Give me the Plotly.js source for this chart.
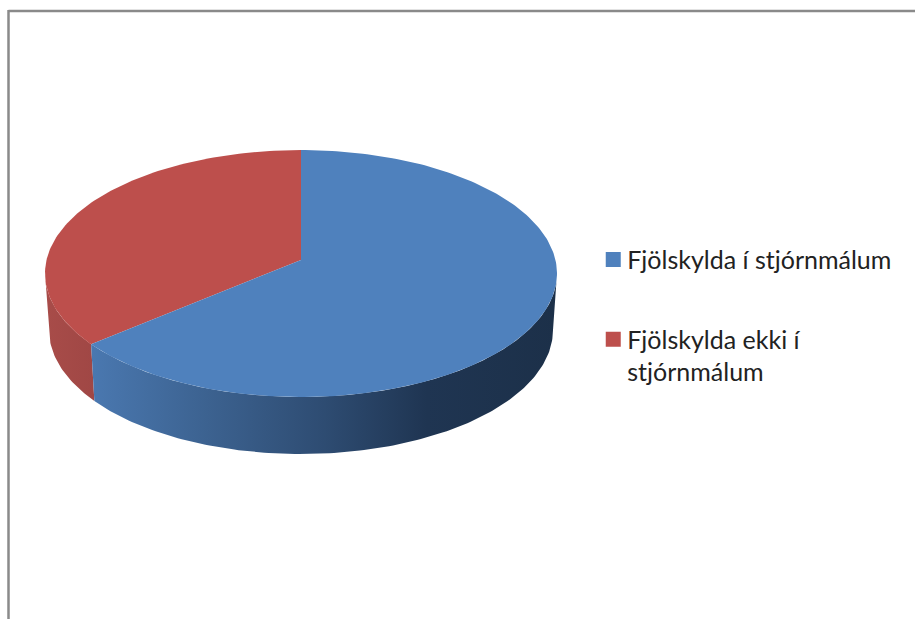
<!DOCTYPE html>
<html>
<head>
<meta charset="utf-8">
<script src="https://cdn.plot.ly/plotly-3.0.1.min.js"></script>
<style>html,body{margin:0;padding:0;background:#fff;overflow:hidden}#c{width:915px;height:619px}</style>
</head>
<body>
<div id="c"></div>
<script>
const categories = ["Fjölskylda í stjórnmálum", "Fjölskylda ekki í stjórnmálum"];
const legendLabels = ["Fjölskylda í stjórnmálum", "Fjölskylda ekki í<br>stjórnmálum"];
const values = [65.3, 34.7];
const topColors = ["#4f81bd", "#bd4f4c"];
const wallScales = [
  [[0, "#4a78b0"], [0.25, "#3c6290"], [0.5, "#2e4c72"], [0.72, "#1f3552"], [1, "#1c3049"]],
  [[0, "#a84c49"], [1, "#a04745"]]
];

// Disc geometry in axis units (the axes span the page)
const top3d = {cx: 301, cy: 273.5, rx: 256, ry: 123.5, apexY: 260};
const low3d = {cx: 301, cy: 330, rx: 252, ry: 124};

function rim(g, a, b) {
  const xs = [], ys = [], n = Math.max(2, Math.ceil(Math.abs(b - a)));
  for (let i = 0; i <= n; i++) {
    const t = (a + (b - a) * i / n) * Math.PI / 180;
    xs.push(g.cx + g.rx * Math.sin(t));
    ys.push(g.cy - g.ry * Math.cos(t));
  }
  return {xs, ys};
}

const total = values.reduce((s, v) => s + v, 0);
const splitAngle = values[0] / total * 360;

function wall(a, b, idx) {
  const t = rim(top3d, a, b), l = rim(low3d, a, b);
  return {
    type: "scatter", mode: "lines", x: t.xs.concat(l.xs.slice().reverse()), y: t.ys.concat(l.ys.slice().reverse()),
    fill: "toself", line: {width: 0}, fillcolor: wallScales[idx][0][1],
    fillgradient: {type: "horizontal", colorscale: wallScales[idx]},
    showlegend: false, hoverinfo: "skip"
  };
}
function face(a, b, idx) {
  const t = rim(top3d, a, b);
  return {
    type: "scatter", mode: "lines",
    x: [top3d.cx].concat(t.xs, [top3d.cx]), y: [top3d.apexY].concat(t.ys, [top3d.apexY]),
    fill: "toself", fillcolor: topColors[idx], line: {width: 0},
    showlegend: false, name: categories[idx], hoverinfo: "name"
  };
}
function key(idx) {
  return {
    type: "scatter", mode: "markers", x: [null], y: [null], name: legendLabels[idx],
    legendgroup: "g" + idx, marker: {symbol: "square", size: 15, color: topColors[idx]}, hoverinfo: "skip"
  };
}

const traces = [
  wall(splitAngle, 360 - 90 + 0, 1),
  wall(90, splitAngle, 0),
  face(splitAngle, 360, 1),
  face(0, splitAngle, 0),
  key(0), key(1)
];

const layout = {
  width: 915, height: 619,
  margin: {l: 0, r: 0, t: 0, b: 0},
  paper_bgcolor: "#fff", plot_bgcolor: "#fff",
  xaxis: {range: [0, 915], visible: false, fixedrange: true},
  yaxis: {range: [619, 0], visible: false, fixedrange: true},
  font: {family: "Lato, 'Open Sans', sans-serif", color: "#222222", size: 25},
  legend: {
    x: 0.6418, y: 0.6175, xanchor: "left", yanchor: "top",
    bgcolor: "rgba(0,0,0,0)", borderwidth: 0, tracegroupgap: 44,
    itemwidth: 30, font: {size: 25, color: "#222222"}
  },
  shapes: [
    {type: "line", xref: "paper", yref: "paper", x0: 8.5/915, x1: 1, y0: 1 - 11/619, y1: 1 - 11/619, line: {color: "#8a8a8a", width: 2.5}},
    {type: "line", xref: "paper", yref: "paper", x0: 8.5/915, x1: 8.5/915, y0: 1 - 10/619, y1: 0, line: {color: "#8a8a8a", width: 2.5}}
  ]
};
Plotly.newPlot("c", traces, layout, {displayModeBar: false, staticPlot: true}).then(function () {
  // Legend keys sit closer to the text and level with the first line of each entry
  const offsets = [[6, 0], [6, -16]];
  document.querySelectorAll("#c .legend .legendsymbols").forEach(function (el, i) {
    const o = offsets[i] || [0, 0];
    el.setAttribute("transform", (el.getAttribute("transform") || "") + " translate(" + o[0] + "," + o[1] + ")");
  });
});
</script>
</body>
</html>
